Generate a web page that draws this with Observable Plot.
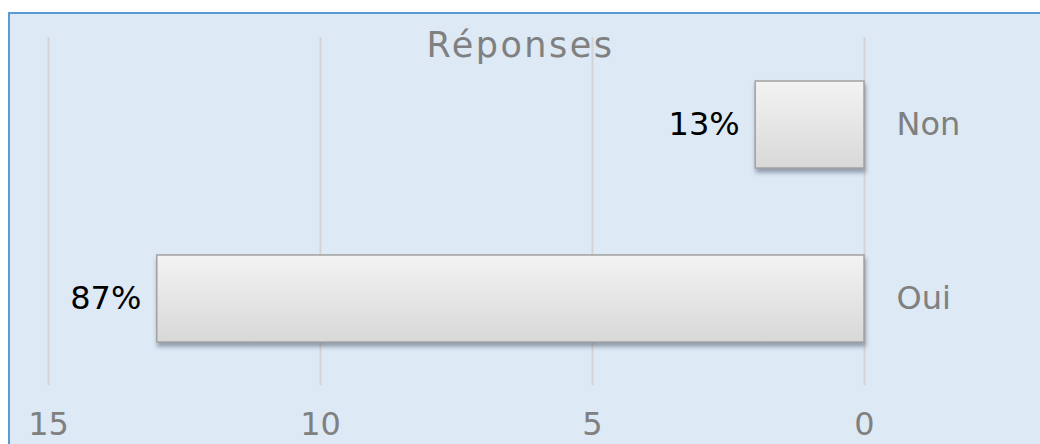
<!DOCTYPE html>
<html>
<head>
<meta charset="utf-8">
<script src="https://cdn.jsdelivr.net/npm/d3@7"></script>
<script src="https://cdn.jsdelivr.net/npm/@observablehq/plot@0.6"></script>
<style>
  html, body { margin: 0; padding: 0; width: 1040px; height: 444px; overflow: hidden; background: #ffffff; }
  #panel { position: absolute; left: 8px; top: 12px; width: 1100px; height: 500px; background: #dde9f5; border: 2px solid #5b9bd5; }
  #chart { position: absolute; left: 0; top: 0; }
</style>
</head>
<body>
<div id="panel"></div>
<div id="chart"></div>
<script>
const categories = ["Non", "Oui"];
const counts = [2, 13];
const xTicks = [0, 5, 10, 15];
const xDomain = [0, 15];
const title = "Réponses";

const total = d3.sum(counts);
const data = categories.map((c, i) => ({category: c, count: counts[i], pct: Math.round(counts[i] / total * 100) + "%"}));

const chart = Plot.plot({
  width: 1040,
  height: 444,
  marginLeft: 48,
  marginRight: 176,
  marginTop: 37,
  marginBottom: 59,
  style: {background: "transparent", fontFamily: "DejaVu Sans, Verdana, sans-serif"},
  x: {domain: xDomain, reverse: true},
  y: {domain: categories, paddingInner: 0.5, paddingOuter: 0.25},
  marks: [
    Plot.gridX(xTicks, {stroke: "#d4d4d4", strokeOpacity: 1, strokeWidth: 2}),
    Plot.barX(data, {x: "count", y: "category", fill: "#e6e6e6", stroke: "#a3a3a3", strokeWidth: 1.5}),
    Plot.text(data, {x: "count", y: "category", text: "pct", textAnchor: "end", dx: -16, fontSize: 32, fill: "#000000"}),
    Plot.axisX({ticks: xTicks, tickSize: 0, tickPadding: 27, fontSize: 32, color: "#808080", label: null}),
    Plot.axisY({anchor: "right", tickSize: 0, tickPadding: 32, fontSize: 32, color: "#808080", label: null}),
    Plot.text([title], {frameAnchor: "top", dx: 64, dy: 8.5, lineAnchor: "middle", fontSize: 35, fill: "#808080"})
  ]
});

// gradient + shadow for bars
const ns = "http://www.w3.org/2000/svg";
const defs = document.createElementNS(ns, "defs");
const grad = document.createElementNS(ns, "linearGradient");
grad.setAttribute("id", "barGrad");
grad.setAttribute("x1", "0"); grad.setAttribute("y1", "0");
grad.setAttribute("x2", "0"); grad.setAttribute("y2", "1");
[["0", "#f3f3f3"], ["1", "#d8d8d8"]].forEach(([o, c]) => {
  const s = document.createElementNS(ns, "stop");
  s.setAttribute("offset", o); s.setAttribute("stop-color", c);
  grad.appendChild(s);
});
defs.appendChild(grad);
chart.insertBefore(defs, chart.firstChild);
const barG = chart.querySelector('g[aria-label="bar"]');
if (barG) {
  barG.setAttribute("fill", "url(#barGrad)");
  barG.querySelectorAll("rect").forEach(r => r.setAttribute("fill", "url(#barGrad)"));
  barG.style.filter = "drop-shadow(1px 4px 2px rgba(70,80,100,0.5))";
}
chart.querySelectorAll("text").forEach(t => {
  if (t.textContent === title) t.style.letterSpacing = "2.5px";
});

document.getElementById("chart").appendChild(chart);
</script>
</body>
</html>
